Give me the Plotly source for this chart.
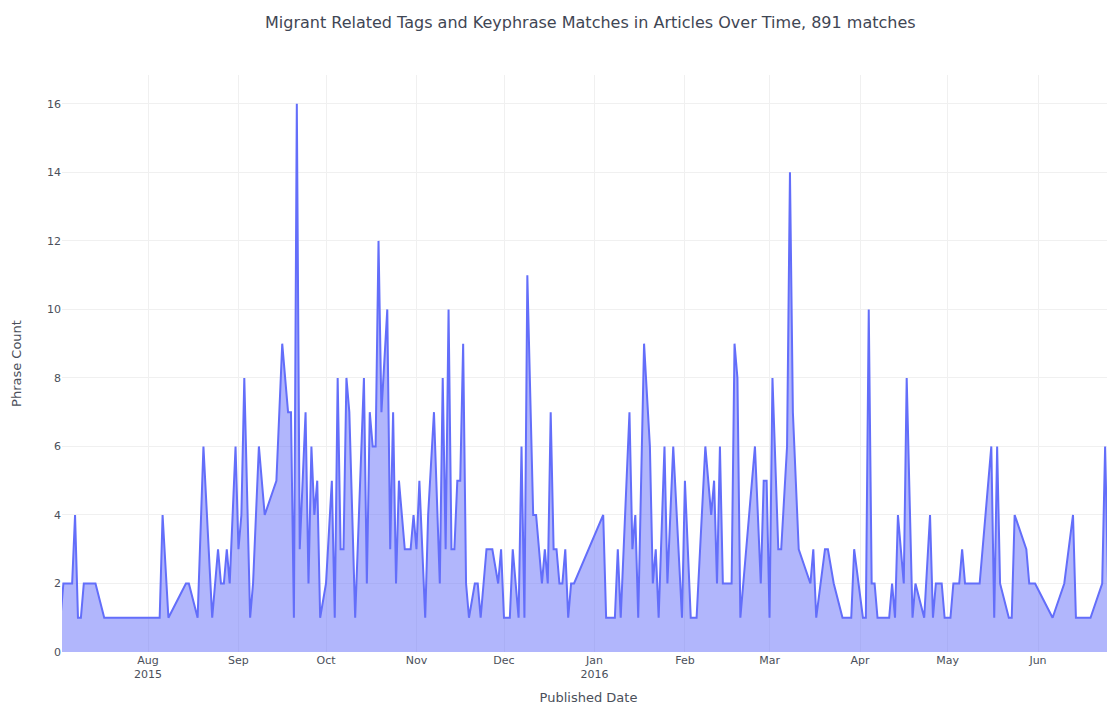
import plotly.graph_objects as go
import pandas as pd

# daily counts (missing days are simply not present)
dates = [
    "2015-07-02", "2015-07-03", "2015-07-06", "2015-07-07", "2015-07-08", "2015-07-09",
    "2015-07-10", "2015-07-14", "2015-07-17", "2015-08-05", "2015-08-06", "2015-08-08",
    "2015-08-14", "2015-08-15", "2015-08-18", "2015-08-20", "2015-08-23", "2015-08-25",
    "2015-08-26", "2015-08-27", "2015-08-28", "2015-08-29", "2015-08-31", "2015-09-01",
    "2015-09-02", "2015-09-03", "2015-09-05", "2015-09-06", "2015-09-08", "2015-09-10",
    "2015-09-14", "2015-09-16", "2015-09-18", "2015-09-19", "2015-09-20", "2015-09-21",
    "2015-09-22", "2015-09-24", "2015-09-25", "2015-09-26", "2015-09-27", "2015-09-28",
    "2015-09-29", "2015-10-01", "2015-10-03", "2015-10-04", "2015-10-05", "2015-10-06",
    "2015-10-07", "2015-10-08", "2015-10-09", "2015-10-11", "2015-10-14", "2015-10-15",
    "2015-10-16", "2015-10-17", "2015-10-18", "2015-10-19", "2015-10-20", "2015-10-22",
    "2015-10-23", "2015-10-24", "2015-10-25", "2015-10-26", "2015-10-28", "2015-10-30",
    "2015-10-31", "2015-11-01", "2015-11-02", "2015-11-04", "2015-11-05", "2015-11-07",
    "2015-11-09", "2015-11-10", "2015-11-11", "2015-11-12", "2015-11-13", "2015-11-14",
    "2015-11-15", "2015-11-16", "2015-11-17", "2015-11-18", "2015-11-19", "2015-11-21",
    "2015-11-22", "2015-11-23", "2015-11-25", "2015-11-27", "2015-11-29", "2015-11-30",
    "2015-12-01", "2015-12-03", "2015-12-04", "2015-12-06", "2015-12-07", "2015-12-08",
    "2015-12-09", "2015-12-11", "2015-12-12", "2015-12-14", "2015-12-15", "2015-12-16",
    "2015-12-17", "2015-12-18", "2015-12-19", "2015-12-20", "2015-12-21", "2015-12-22",
    "2015-12-23", "2015-12-24", "2015-12-25", "2016-01-04", "2016-01-05", "2016-01-08",
    "2016-01-09", "2016-01-10", "2016-01-13", "2016-01-14", "2016-01-15", "2016-01-16",
    "2016-01-18", "2016-01-20", "2016-01-21", "2016-01-22", "2016-01-23", "2016-01-25",
    "2016-01-26", "2016-01-28", "2016-01-31", "2016-02-01", "2016-02-03", "2016-02-05",
    "2016-02-08", "2016-02-10", "2016-02-11", "2016-02-12", "2016-02-13", "2016-02-14",
    "2016-02-17", "2016-02-18", "2016-02-19", "2016-02-20", "2016-02-23", "2016-02-24",
    "2016-02-25", "2016-02-27", "2016-02-28", "2016-02-29", "2016-03-01", "2016-03-02",
    "2016-03-04", "2016-03-05", "2016-03-07", "2016-03-08", "2016-03-09", "2016-03-11",
    "2016-03-15", "2016-03-16", "2016-03-17", "2016-03-20", "2016-03-21", "2016-03-23",
    "2016-03-26", "2016-03-29", "2016-03-30", "2016-04-02", "2016-04-03", "2016-04-04",
    "2016-04-05", "2016-04-06", "2016-04-07", "2016-04-11", "2016-04-12", "2016-04-13",
    "2016-04-14", "2016-04-16", "2016-04-17", "2016-04-19", "2016-04-20", "2016-04-23",
    "2016-04-25", "2016-04-26", "2016-04-27", "2016-04-29", "2016-04-30", "2016-05-02",
    "2016-05-03", "2016-05-05", "2016-05-06", "2016-05-07", "2016-05-09", "2016-05-12",
    "2016-05-16", "2016-05-17", "2016-05-18", "2016-05-19", "2016-05-22", "2016-05-23",
    "2016-05-24", "2016-05-28", "2016-05-29", "2016-05-31", "2016-06-06", "2016-06-10",
    "2016-06-13", "2016-06-14", "2016-06-19", "2016-06-23", "2016-06-24", "2016-06-25",
    "2016-06-26", "2016-06-27", "2016-06-28",
]
counts = [
    1, 2, 2, 4, 1, 1,
    2, 2, 1, 1, 4, 1,
    2, 2, 1, 6, 1, 3,
    2, 2, 3, 2, 6, 3,
    4, 8, 1, 2, 6, 4,
    5, 9, 7, 7, 1, 16,
    3, 7, 2, 6, 4, 5,
    1, 2, 5, 1, 8, 3,
    3, 8, 7, 1, 8, 2,
    7, 6, 6, 12, 7, 10,
    3, 7, 2, 5, 3, 3,
    4, 3, 5, 1, 4, 7,
    2, 8, 3, 10, 3, 3,
    5, 5, 9, 2, 1, 2,
    2, 1, 3, 3, 2, 3,
    1, 1, 3, 1, 6, 1,
    11, 4, 4, 2, 3, 2,
    7, 3, 3, 2, 2, 3,
    1, 2, 2, 4, 1, 1,
    3, 1, 7, 3, 4, 1,
    9, 6, 2, 3, 1, 6,
    2, 6, 1, 5, 1, 1,
    6, 4, 5, 2, 6, 2,
    2, 9, 8, 1, 4, 5,
    6, 2, 5, 5, 1, 8,
    3, 3, 6, 14, 7, 3,
    2, 3, 1, 3, 3, 2,
    1, 1, 3, 1, 1, 10,
    2, 2, 1, 1, 2, 1,
    4, 2, 8, 1, 2, 1,
    4, 1, 2, 2, 1, 1,
    2, 2, 3, 2, 2, 2,
    6, 1, 6, 2, 1, 1,
    4, 3, 2, 2, 1, 2,
    4, 1, 1, 2, 6, 2,
    5, 1, 1,
]

tick_dates = [
    "2015-08-01", "2015-09-01", "2015-10-01", "2015-11-01", "2015-12-01", "2016-01-01",
    "2016-02-01", "2016-03-01", "2016-04-01", "2016-05-01", "2016-06-01",
]
tick_labels = [
    "Aug<br>2015", "Sep", "Oct", "Nov", "Dec", "Jan<br>2016",
    "Feb", "Mar", "Apr", "May", "Jun",
]

df = pd.DataFrame({"Published Date": pd.to_datetime(dates), "Phrase Count": counts})

fig = go.Figure(go.Scatter(
    x=df["Published Date"],
    y=df["Phrase Count"],
    mode="lines",
    fill="tozeroy",
    line=dict(color="#636efa", width=2),
))

# page body has an 8px margin, so the figure is a bit smaller than the window
fig.update_layout(
    template="plotly_white",
    width=1107,
    height=697,
    font=dict(family="DejaVu Sans", color="#4a4f5a"),
    title=dict(
        text="Migrant Related Tags and Keyphrase Matches in Articles Over Time, 891 matches",
        x=0.526, xanchor="center", y=0.979, yanchor="middle",
        font=dict(size=16, color="#3f4654"),
    ),
    margin=dict(l=54, r=0, t=67, b=53),
    showlegend=False,
)
fig.update_xaxes(
    title_text="Published Date",
    title_font_size=13,
    title_standoff=15,
    range=["2015-07-02 12:40", "2016-06-27 09:20"],
    tickvals=tick_dates,
    ticktext=tick_labels,
    tickfont=dict(size=11),
    gridcolor="#f0f0f0",
    automargin=False,
)
fig.update_yaxes(
    title_text="Phrase Count",
    title_font_size=13,
    title_standoff=22,
    tickfont=dict(size=11),
    gridcolor="#f0f0f0",
    zeroline=False,
    automargin=False,
)

fig.write_html("out.html")
